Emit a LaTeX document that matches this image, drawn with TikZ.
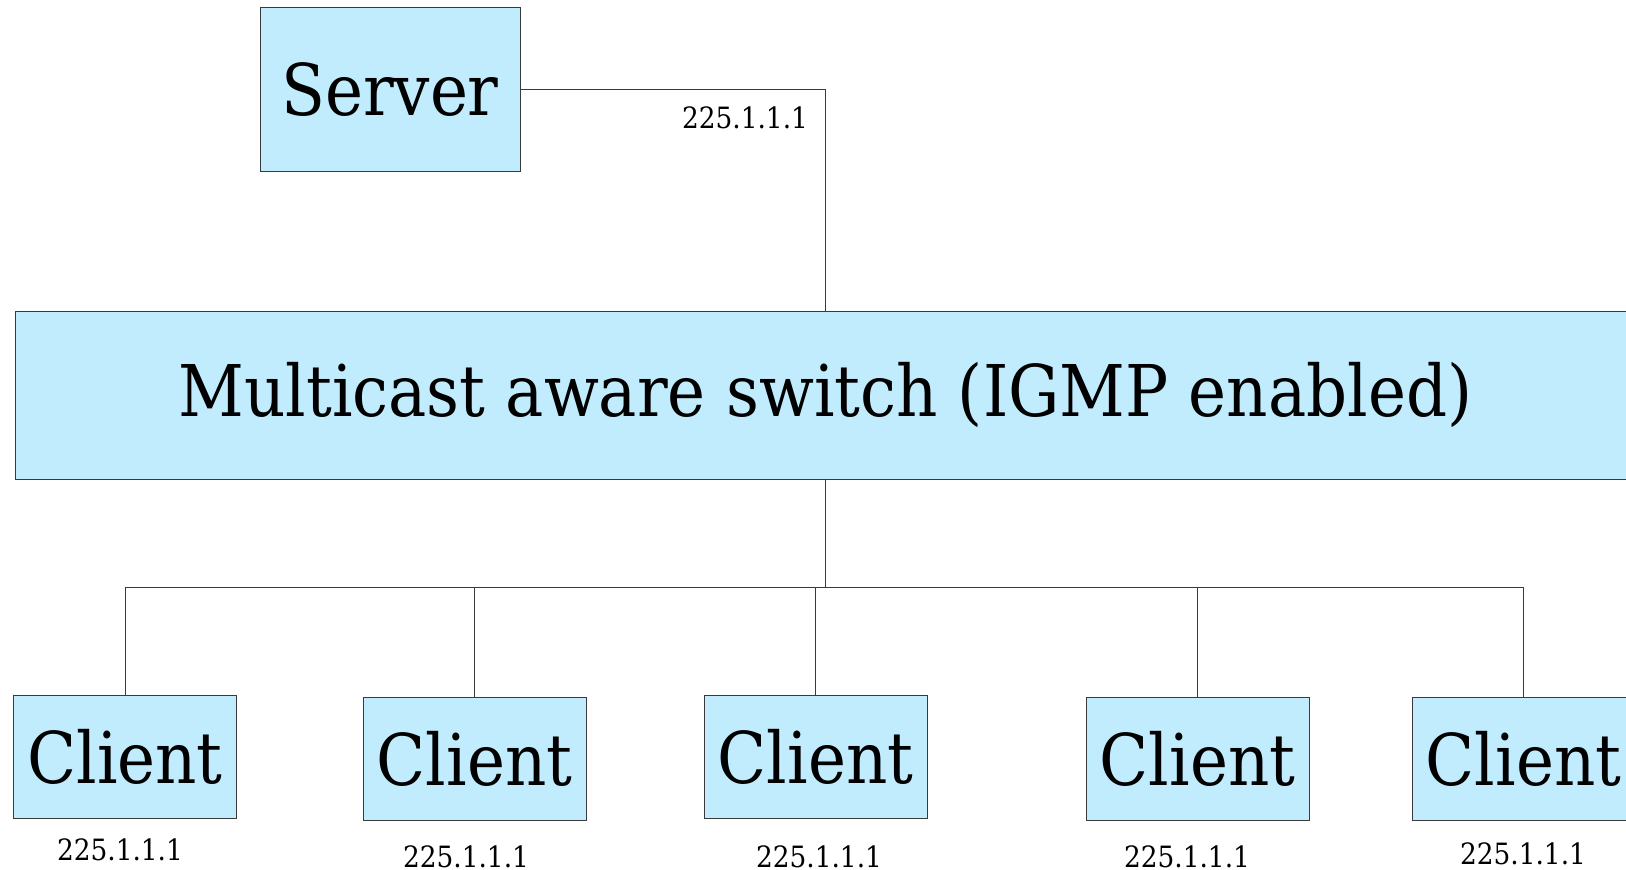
\documentclass[tikz,border=0pt]{standalone}
\usepackage{fontspec}
\setmainfont{DejaVu Serif Condensed}
\definecolor{boxfill}{HTML}{C0ECFE}
\definecolor{edge}{HTML}{3A3A3A}
\tikzset{
  unit/.style={draw=edge, fill=boxfill, line width=0.75pt, inner sep=0pt, anchor=center},
  bigtext/.style={font=\fontsize{53.5}{58}\selectfont},
  clientbox/.style={unit, bigtext, minimum width=223*0.75pt, minimum height=123*0.75pt},
  addr/.style={inner sep=0pt, font=\fontsize{22}{25}\selectfont},
  wire/.style={draw=edge, line width=0.75pt},
}
\begin{document}
\begin{tikzpicture}[x=0.75pt,y=-0.75pt]
  \clip (0,0) rectangle (1626,870);
  \fill[white] (0,0) rectangle (1626,870);

  % server and switch
  \node[unit, bigtext, minimum width=260*0.75pt, minimum height=163*0.75pt] (server) at (390,89.5) {Server};
  \node[unit, bigtext, minimum width=1620*0.75pt, minimum height=168*0.75pt] (switch) at (825.5,395) {Multicast aware switch (IGMP enabled)};
  \node[addr] (srvaddr) at (745,118) {225.1.1.1};

  % clients
  \node[clientbox] (c1) at (125,756.5) {Client};
  \node[clientbox] (c2) at (474.5,758.5) {Client};
  \node[clientbox] (c3) at (815.5,756.5) {Client};
  \node[clientbox] (c4) at (1197.5,758.5) {Client};
  \node[clientbox] (c5) at (1523.5,758.5) {Client};

  \node[addr] (a1) at (120,850) {225.1.1.1};
  \node[addr] (a2) at (466,857) {225.1.1.1};
  \node[addr] (a3) at (819,857) {225.1.1.1};
  \node[addr] (a4) at (1187,857) {225.1.1.1};
  \node[addr] (a5) at (1523,854) {225.1.1.1};

  % connectors
  \draw[wire] (server.east) -| (switch.north);
  \coordinate (bus) at (825.5,587);
  \draw[wire] (switch.south) -- (bus);
  \foreach \c in {c1,c2,c3,c4,c5}{
    \draw[wire] (bus) -| (\c.north);
  }
\end{tikzpicture}
\end{document}
